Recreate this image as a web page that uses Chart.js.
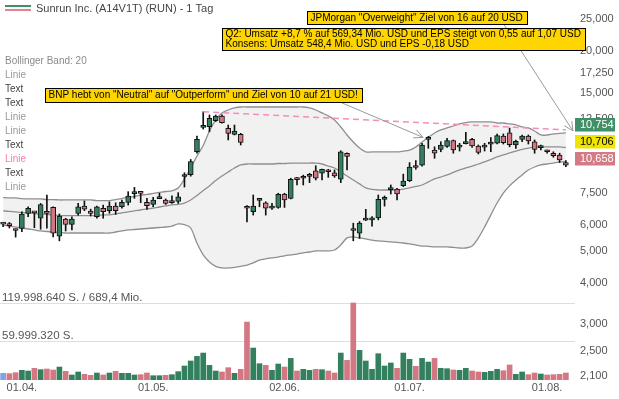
<!DOCTYPE html>
<html>
<head>
<meta charset="utf-8">
<script src="https://cdn.jsdelivr.net/npm/chart.js@4.4.1/dist/chart.umd.min.js"></script>
<style>
  html, body { margin: 0; padding: 0; background: #fff; }
  #wrap { width: 619px; height: 399px; position: relative; }
</style>
</head>
<body>
<div id="wrap"><canvas id="chart"></canvas></div>
<script>
// trading days (dd.mm.)
const dates = ['27.03.','28.03.','31.03.',
  '01.04.','02.04.','03.04.','04.04.','07.04.','08.04.','09.04.','10.04.','11.04.','14.04.','15.04.','16.04.','17.04.','21.04.','22.04.','23.04.','24.04.','25.04.','28.04.','29.04.','30.04.',
  '01.05.','02.05.','05.05.','06.05.','07.05.','08.05.','09.05.','12.05.','13.05.','14.05.','15.05.','16.05.','19.05.','20.05.','21.05.','22.05.','23.05.','27.05.','28.05.','29.05.','30.05.',
  '02.06.','03.06.','04.06.','05.06.','06.06.','09.06.','10.06.','11.06.','12.06.','13.06.','16.06.','17.06.','18.06.','20.06.','23.06.','24.06.','25.06.','26.06.','27.06.','30.06.',
  '01.07.','02.07.','03.07.','07.07.','08.07.','09.07.','10.07.','11.07.','14.07.','15.07.','16.07.','17.07.','18.07.','21.07.','22.07.','23.07.','24.07.','25.07.','28.07.','29.07.','30.07.','31.07.',
  '01.08.','04.08.','05.08.','06.08.'];

const openP = [6.04,5.97,5.77,5.84,6.49,6.52,6.27,6.50,6.76,5.54,
  6.23,6.01,6.49,6.82,6.59,6.34,6.72,6.61,6.82,6.79,
  7.00,7.44,7.47,7.00,6.90,7.19,7.12,6.99,7.05,8.38,
  8.49,9.95,11.79,11.84,12.35,12.76,11.70,11.23,11.23,6.73,
  6.56,7.10,6.98,6.73,6.76,7.42,7.20,8.21,8.28,8.39,
  8.71,8.57,8.68,8.60,8.22,9.85,5.77,5.65,6.19,6.20,
  6.29,7.15,7.65,7.68,7.86,8.14,8.94,9.07,10.85,10.07,
  10.11,10.32,10.75,10.28,10.53,10.85,10.36,10.28,10.49,10.57,
  11.10,11.34,10.43,10.85,11.10,10.67,10.24,9.97,9.85,9.73,
  9.23];
const highP = [6.08,6.09,5.82,6.56,6.79,6.56,6.95,7.37,6.79,6.46,
  6.27,6.33,6.95,7.07,6.68,6.82,6.87,7.03,6.98,7.12,
  7.54,7.77,7.48,7.20,7.25,7.46,7.17,7.33,7.49,8.60,
  9.43,11.10,13.14,12.85,12.85,12.85,11.98,11.98,11.31,6.85,
  7.37,7.20,7.03,6.95,7.46,7.46,8.28,8.33,8.46,8.57,
  9.03,8.83,8.81,8.77,10.02,9.87,6.06,6.13,6.67,6.34,
  7.37,7.32,7.90,7.72,8.52,9.23,9.36,10.55,11.07,10.30,
  10.67,10.93,10.80,10.55,11.39,10.93,10.43,10.55,10.99,11.26,
  11.26,11.73,10.80,11.18,11.18,10.80,10.43,10.07,9.95,9.85,
  9.36];
const lowP = [5.91,5.86,5.50,5.71,6.34,5.87,5.81,5.85,5.51,5.36,
  5.74,5.78,6.41,6.61,6.37,6.27,6.27,6.49,6.44,6.72,
  6.87,7.20,6.99,6.67,6.79,7.18,6.90,6.95,6.95,7.79,
  8.40,9.85,11.65,11.43,12.27,12.13,10.80,11.18,10.43,6.11,
  6.41,6.79,6.41,6.67,6.72,6.76,7.17,7.90,7.90,8.03,
  8.18,8.18,8.33,8.33,8.03,8.77,5.36,5.45,6.17,5.94,
  6.20,6.82,7.42,7.12,7.81,8.09,8.81,9.01,10.19,9.51,
  9.95,10.26,9.85,10.00,10.50,10.26,9.80,10.00,9.96,10.50,
  10.50,10.30,10.19,10.67,10.50,9.85,10.07,9.85,9.58,9.23,
  8.97];
const closeP = [6.02,5.96,5.76,6.46,6.72,6.51,6.90,6.49,5.65,6.37,
  6.01,6.23,6.79,6.68,6.49,6.79,6.56,6.82,6.61,7.00,
  7.32,7.46,7.45,6.84,7.12,7.20,6.95,7.00,7.28,8.40,
  9.30,10.85,11.81,12.56,12.76,12.18,11.31,11.49,10.61,6.72,
  6.82,7.12,6.72,6.74,7.41,7.12,8.22,8.20,8.30,8.41,
  8.28,8.81,8.66,8.42,9.95,9.63,5.76,6.06,6.20,6.22,
  7.15,7.17,7.67,7.42,8.12,8.94,8.92,10.43,11.00,9.85,
  10.43,10.75,10.07,10.30,10.55,10.36,9.91,10.30,10.51,11.14,
  10.60,10.46,10.69,11.10,10.72,10.12,10.26,9.95,9.68,9.40,
  9.07];

// volume in millions of shares
const volumeMio = [10.4,9.9,11.4,15.1,14.0,18.2,16.1,17.1,15.6,20.2,
  13.5,7.8,12.5,8.8,7.3,10.9,7.8,10.9,13.5,10.4,
  10.4,7.8,8.3,10.9,6.7,6.7,7.3,8.3,13.0,21.8,
  29.6,36.8,42.0,22.8,14.0,12.5,19.2,10.4,16.6,90.3,
  49.8,25.4,22.8,15.1,24.9,20.2,33.7,14.0,16.6,15.1,
  16.6,16.1,14.0,10.9,42.0,30.6,119.99864,46.2,29.6,16.6,
  41.0,21.8,26.5,18.2,42.0,32.2,21.3,33.7,28.0,33.7,
  18.2,17.6,15.6,15.1,18.2,14.0,12.5,11.9,13.5,16.6,
  14.5,23.4,8.8,12.5,8.3,10.9,9.3,7.8,8.3,8.8,
  10.9];

// Bollinger Band 20
const bbUpper = [7.24,7.22,7.22,7.19,7.17,7.17,7.17,7.14,7.14,7.12,
  7.12,7.12,7.12,7.12,7.12,7.09,7.09,7.09,7.14,7.19,
  7.25,7.30,7.36,7.40,7.45,7.50,7.55,7.59,7.74,8.24,
  8.89,9.66,10.39,11.49,12.41,13.03,13.30,13.49,13.58,13.58,
  13.58,13.58,13.58,13.58,13.58,13.58,13.58,13.58,13.58,13.49,
  13.30,13.03,12.76,12.41,11.82,11.18,10.65,10.21,9.94,9.94,
  9.94,9.94,9.94,9.94,10.00,10.07,10.29,10.65,10.99,11.34,
  11.58,11.74,11.90,12.07,12.19,12.24,12.24,12.24,12.24,12.15,
  12.15,12.07,11.99,11.82,11.74,11.49,11.18,11.18,11.26,11.30,
  11.34];
const bbMiddle = [6.60,6.58,6.55,6.53,6.51,6.48,6.46,6.44,6.42,6.39,
  6.39,6.39,6.39,6.39,6.39,6.39,6.42,6.42,6.46,6.51,
  6.55,6.60,6.64,6.69,6.73,6.78,6.83,6.88,6.90,6.97,
  7.12,7.34,7.60,7.85,8.15,8.41,8.65,8.89,9.08,9.14,
  9.14,9.14,9.14,9.14,9.17,9.17,9.20,9.20,9.20,9.20,
  9.20,9.14,9.01,8.89,8.65,8.41,8.18,7.96,7.74,7.66,
  7.63,7.63,7.63,7.63,7.68,7.74,7.82,7.90,8.07,8.24,
  8.35,8.47,8.62,8.77,8.89,9.01,9.14,9.27,9.43,9.60,
  9.73,9.87,10.00,10.11,10.21,10.29,10.29,10.29,10.29,10.29,
  10.25];
const bbLower = [5.98,5.94,5.90,5.86,5.82,5.78,5.74,5.72,5.70,5.68,
  5.66,5.66,5.66,5.66,5.66,5.66,5.66,5.66,5.70,5.74,
  5.78,5.80,5.82,5.84,5.86,5.88,5.90,5.94,6.03,6.00,
  5.86,5.28,4.86,4.63,4.49,4.44,4.44,4.46,4.49,4.53,
  4.60,4.69,4.73,4.76,4.79,4.83,4.86,4.89,4.93,4.96,
  5.00,5.00,5.00,5.03,5.21,5.47,5.51,5.47,5.43,5.39,
  5.36,5.34,5.32,5.30,5.28,5.25,5.21,5.17,5.16,5.14,
  5.14,5.14,5.12,5.10,5.10,5.17,5.47,5.90,6.42,6.97,
  7.47,7.85,8.18,8.47,8.77,8.95,9.08,9.14,9.20,9.27,
  9.30];

// drawn trend line (pink, dashed)
const trendIdx = [32, 90];
const trendVal = [13.14, 11.59];

const priceTicks = [2.1, 2.5, 3, 4, 5, 6, 7.5, 12.5, 15, 17.25, 20, 25];
const quoteLabels = [10.754, 10.706, 10.658];

const titleText = 'Sunrun Inc. (A14V1T) (RUN) - 1 Tag';
const legendLines = [['Bollinger Band: 20', '#8a8a8a'], ['Linie', '#9a9a9a'], ['Text', '#444'], ['Text', '#444'],
  ['Linie', '#9a9a9a'], ['Linie', '#9a9a9a'], ['Text', '#444'], ['Linie', '#f27bb2'], ['Text', '#444'], ['Linie', '#9a9a9a']];
const noteBNP = ['BNP hebt von "Neutral" auf "Outperform" und Ziel von 10 auf 21 USD!'];
const noteJPM = ['JPMorgan "Overweight" Ziel von 16 auf 20 USD'];
const noteQ2 = ['Q2: Umsatz +8,7 % auf 569,34 Mio. USD und EPS steigt von 0,55 auf 1,07 USD',
  'Konsens: Umsatz 548,4 Mio. USD und EPS -0,18 USD'];
const turnoverText = '689,4 Mio.';

const FONT = '"Liberation Sans", Arial, sans-serif';
Chart.defaults.font.family = FONT;

const GREEN = '#33805f', RED = '#d37783', BLUE = '#7fa3e8';
const candleColors = openP.map((o, i) => closeP[i] >= o ? GREEN : RED);
const volColors = closeP.map((c, i) => i === 0 ? BLUE : (c >= closeP[i - 1] ? GREEN : RED));

function fmt3(v) { return v.toFixed(3).replace('.', ','); }
function deInt(n) { return String(Math.round(n)).replace(/\B(?=(\d{3})+(?!\d))/g, '.'); }

function arrow(ctx, x1, y1, x2, y2) {
  const a = Math.atan2(y2 - y1, x2 - x1);
  ctx.beginPath();
  ctx.moveTo(x1, y1); ctx.lineTo(x2, y2);
  ctx.moveTo(x2, y2); ctx.lineTo(x2 - 10 * Math.cos(a - 0.45), y2 - 10 * Math.sin(a - 0.45));
  ctx.moveTo(x2, y2); ctx.lineTo(x2 - 10 * Math.cos(a + 0.45), y2 - 10 * Math.sin(a + 0.45));
  ctx.stroke();
}

function noteBox(ctx, x, y, h, lines) {
  ctx.font = '10px ' + FONT;
  const w = Math.ceil(Math.max(...lines.map(l => ctx.measureText(l).width))) + 7;
  ctx.fillStyle = '#ffd500';
  ctx.fillRect(x, y, w, h);
  ctx.strokeStyle = '#000';
  ctx.lineWidth = 1;
  ctx.strokeRect(x + 0.5, y + 0.5, w, h);
  ctx.fillStyle = '#000';
  ctx.textAlign = 'left';
  ctx.textBaseline = 'middle';
  const lh = (h - 2) / lines.length;
  lines.forEach((l, i) => ctx.fillText(l, x + 3.5, y + 1.5 + lh * (i + 0.5)));
}

const overlay = {
  id: 'overlay',
  beforeDatasetsDraw(chart) {
    const { ctx, chartArea, scales } = chart;
    const maxVol = Math.max(...volumeMio);
    ctx.save();
    ctx.strokeStyle = '#dedede';
    ctx.lineWidth = 1;
    [maxVol, maxVol / 2].forEach(v => {
      const y = Math.round(scales.yv.getPixelForValue(v)) + 0.5;
      ctx.beginPath(); ctx.moveTo(chartArea.left, y); ctx.lineTo(chartArea.right + 6, y); ctx.stroke();
    });
    ctx.restore();
  },
  afterDraw(chart) {
    const { ctx, chartArea, scales } = chart;
    const xs = scales.x, ys = scales.y, yv = scales.yv;
    ctx.save();

    // title + icon
    ctx.lineWidth = 2;
    ctx.strokeStyle = '#3f8f68';
    ctx.beginPath(); ctx.moveTo(5, 6); ctx.lineTo(31, 6); ctx.stroke();
    ctx.strokeStyle = '#e0848f';
    ctx.beginPath(); ctx.moveTo(5, 10); ctx.lineTo(31, 10); ctx.stroke();
    ctx.font = '11px ' + FONT;
    ctx.fillStyle = '#444';
    ctx.textAlign = 'left';
    ctx.textBaseline = 'middle';
    ctx.fillText(titleText, 36, 9);

    // indicator legend
    ctx.font = '10px ' + FONT;
    legendLines.forEach((it, i) => {
      ctx.fillStyle = it[1];
      ctx.fillText(it[0], 5, 61 + 14 * i);
    });

    // volume labels
    const maxVol = Math.max(...volumeMio);
    ctx.font = '11.5px ' + FONT;
    ctx.fillStyle = '#555';
    ctx.textBaseline = 'alphabetic';
    ctx.fillText(deInt(maxVol * 1e6) + ' S. / ' + turnoverText, 2, yv.getPixelForValue(maxVol) - 2);
    ctx.fillText(deInt(maxVol * 1e6 / 2) + ' S.', 2, yv.getPixelForValue(maxVol / 2) - 2);

    // arrows
    ctx.strokeStyle = '#9a9a9a';
    ctx.lineWidth = 1;
    arrow(ctx, 341, 102.5, xs.getPixelForValue(67) + 1, ys.getPixelForValue(highP[68]) + 1);
    arrow(ctx, 504, 24.5, chartArea.right + 4, ys.getPixelForValue(bbUpper[bbUpper.length - 1]) - 2);

    // notes
    noteBox(ctx, 45, 88, 14, noteBNP);
    noteBox(ctx, 307, 11, 13, noteJPM);
    noteBox(ctx, 222, 28, 22, noteQ2);

    // quote labels on the price axis
    const yMid = ys.getPixelForValue(quoteLabels[1]);
    const specs = [[yMid - 16.8, '#3f8f68', '#fff'], [yMid, '#f0e500', '#000'], [yMid + 17.2, '#d47a85', '#fff']];
    ctx.font = '11px ' + FONT;
    ctx.textBaseline = 'middle';
    specs.forEach((s, i) => {
      ctx.fillStyle = s[1];
      ctx.fillRect(chartArea.right + 6, Math.round(s[0] - 6.7), 40, 13.5);
      ctx.fillStyle = s[2];
      ctx.fillText(fmt3(quoteLabels[i]), chartArea.right + 11, s[0] + 0.5);
    });
    ctx.restore();
  }
};

const trendData = dates.map((d, i) => {
  const k = trendIdx.indexOf(i);
  return k >= 0 ? trendVal[k] : null;
});

new Chart(document.getElementById('chart'), {
  type: 'bar',
  data: {
    labels: dates,
    datasets: [
      {
        type: 'line', label: 'BB oben', data: bbUpper, yAxisID: 'y', order: 10,
        borderColor: '#8e8e8e', borderWidth: 1.3, pointRadius: 0, tension: 0.3,
        fill: '+2', backgroundColor: 'rgba(0,0,0,0.055)'
      },
      {
        type: 'line', label: 'BB Mitte', data: bbMiddle, yAxisID: 'y', order: 9,
        borderColor: '#8e8e8e', borderWidth: 1.3, pointRadius: 0, tension: 0.3, fill: false
      },
      {
        type: 'line', label: 'BB unten', data: bbLower, yAxisID: 'y', order: 8,
        borderColor: '#8e8e8e', borderWidth: 1.3, pointRadius: 0, tension: 0.3, fill: false
      },
      {
        label: 'Volumen', data: volumeMio, yAxisID: 'yv', order: 6,
        backgroundColor: volColors, barThickness: 5, grouped: false
      },
      {
        label: 'Docht', data: lowP.map((l, i) => [l, highP[i]]), yAxisID: 'y', order: 3,
        backgroundColor: '#111', barThickness: 1, grouped: false
      },
      {
        label: 'Kerze', data: openP.map((o, i) => [o, closeP[i]]), yAxisID: 'y', order: 2,
        backgroundColor: candleColors, borderColor: '#111', borderWidth: 1, borderSkipped: false,
        barThickness: 5, minBarLength: 2, grouped: false
      },
      {
        type: 'line', label: 'Linie', data: trendData, yAxisID: 'y', order: 1, spanGaps: true,
        borderColor: '#f58cbe', borderWidth: 1.5, borderDash: [6, 4], pointRadius: 0, fill: false
      }
    ]
  },
  options: {
    responsive: true,
    maintainAspectRatio: false,
    animation: false,
    events: [],
    layout: { padding: 0 },
    plugins: { legend: { display: false }, tooltip: { enabled: false }, title: { display: false } },
    scales: {
      x: {
        type: 'category', offset: true,
        grid: { display: false, drawTicks: false }, border: { display: false },
        ticks: {
          autoSkip: false, maxRotation: 0, minRotation: 0, padding: 1.5, color: '#555', font: { size: 11 },
          callback: (v, i) => (i > 0 && dates[i].slice(3) !== dates[i - 1].slice(3)) ? dates[i] : ''
        },
        afterFit: s => { s.height = 19; s.paddingLeft = 0; s.paddingRight = 0; }
      },
      y: {
        type: 'logarithmic', position: 'right', min: 2.039, max: 28.55,
        grid: { display: false, drawTicks: false }, border: { display: false },
        ticks: { autoSkip: false, padding: 11, color: '#555', font: { size: 11 }, callback: v => fmt3(v) },
        afterBuildTicks: s => { s.ticks = priceTicks.map(v => ({ value: v })); },
        afterFit: s => { s.width = 50; s.paddingTop = 0; s.paddingBottom = 0; }
      },
      yv: { type: 'linear', display: false, min: 0, max: 592 }
    }
  },
  plugins: [overlay]
});
</script>
</body>
</html>
